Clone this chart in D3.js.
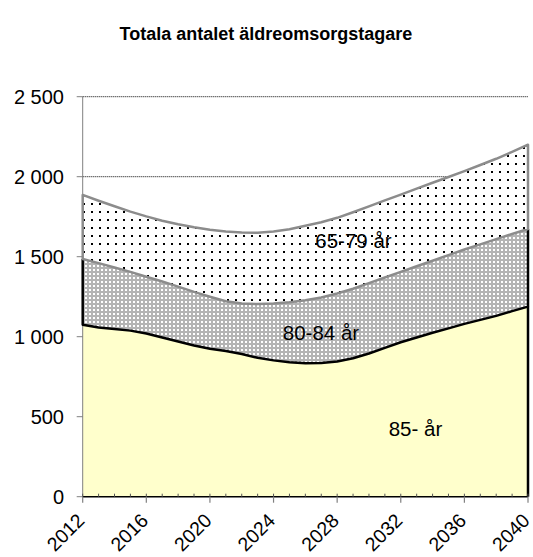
<!DOCTYPE html>
<html>
<head>
<meta charset="utf-8">
<script src="https://cdn.jsdelivr.net/npm/d3@7"></script>
<style>
  body { margin: 0; background: #fff; }
  text { font-family: "Liberation Sans", Arial, sans-serif; fill: #000; }
</style>
</head>
<body>
<svg id="chart" width="533" height="557"></svg>
<script>
// Yearly projection of elderly care recipients, by age group
const years = [2012, 2013, 2014, 2015, 2016, 2017, 2018, 2019, 2020, 2021,
               2022, 2023, 2024, 2025, 2026, 2027, 2028, 2029, 2030, 2031,
               2032, 2033, 2034, 2035, 2036, 2037, 2038, 2039, 2040];
const age85plus = [1075, 1058, 1048, 1038, 1020, 995, 970, 945, 925, 910,
                   892, 868, 852, 840, 834, 836, 845, 865, 895, 930,
                   965, 995, 1025, 1052, 1080, 1105, 1130, 1160, 1188];
const age80to84 = [411, 402, 384, 367, 355, 350, 343, 335, 325, 312,
                   315, 336, 356, 376, 394, 409, 425, 435, 440, 440,
                   440, 445, 450, 458, 465, 472, 480, 482, 485];
const age65to79 = [400, 390, 383, 377, 377, 380, 390, 404, 418, 435,
                   444, 446, 450, 456, 465, 470, 473, 478, 480, 482,
                   483, 485, 487, 488, 490, 496, 502, 513, 527];
const seriesKeys = ["a85", "a80", "a65"];
const seriesLabels = ["85- år", "80-84 år", "65-79 år"];
const yTicks = [0, 500, 1000, 1500, 2000, 2500];
const xTicks = [2012, 2016, 2020, 2024, 2028, 2032, 2036, 2040];
const title = "Totala antalet äldreomsorgstagare";

(function () {
const rows = years.map((yr, i) => ({ year: yr, a85: age85plus[i], a80: age80to84[i], a65: age65to79[i] }));
const stacked = d3.stack().keys(seriesKeys)(rows);

const svg = d3.select("#chart");
const plotLeft = 82.7, plotRight = 528, plotTop = 96.7, plotBottom = 496.7;

const x = d3.scaleLinear().domain([2012, 2040]).range([plotLeft, plotRight]);
const y = d3.scaleLinear().domain([0, 2500]).range([plotBottom, plotTop]);

// fill patterns
const defs = svg.append("defs");
const dots = defs.append("pattern").attr("id", "dots")
  .attr("patternUnits", "userSpaceOnUse").attr("width", 8).attr("height", 8);
dots.append("rect").attr("width", 8).attr("height", 8).attr("fill", "#fff");
dots.append("rect").attr("x", 3).attr("y", 3).attr("width", 2).attr("height", 2).attr("fill", "#000");

const checks = defs.append("pattern").attr("id", "checks")
  .attr("patternUnits", "userSpaceOnUse").attr("width", 4).attr("height", 4);
checks.append("rect").attr("width", 4).attr("height", 4).attr("fill", "#b4b4b4");
checks.append("rect").attr("x", 1).attr("y", 1).attr("width", 2).attr("height", 2).attr("fill", "#fff");

// title
svg.append("text").attr("x", 266).attr("y", 40).attr("text-anchor", "middle")
  .style("font-size", "18px").style("font-weight", "bold").text(title);

// gridlines
svg.append("g").selectAll("line").data(yTicks.filter(d => d > 0)).join("line")
  .attr("x1", plotLeft).attr("x2", plotRight)
  .attr("y1", d => y(d)).attr("y2", d => y(d))
  .attr("stroke", "#000").attr("stroke-width", 1).attr("stroke-dasharray", "1,1");

// stacked areas
const area = d3.area()
  .x(d => x(d.data.year))
  .y0(d => y(d[0]))
  .y1(d => y(d[1]));

const fills = ["#ffffcc", "url(#checks)", "url(#dots)"];
svg.append("g").selectAll("path").data(stacked).join("path")
  .attr("d", area).attr("fill", (d, i) => fills[i]);

// y axis line
svg.append("line").attr("x1", plotLeft).attr("x2", plotLeft).attr("y1", plotTop).attr("y2", plotBottom)
  .attr("stroke", "#808080").attr("stroke-width", 1);

// outlines
const line = d3.line().x(p => p[0]).y(p => p[1]);
const s85 = stacked[0], s80 = stacked[1], s65 = stacked[2];
const last = years.length - 1;

// 85- : right edge
svg.append("path")
  .attr("d", line([[x(years[last]), y(0)], [x(years[last]), y(s85[last][1])]]))
  .attr("fill", "none").attr("stroke", "#000").attr("stroke-width", 2.5);

// 80-84 : left edge, lower boundary, right edge
const b80 = [[x(years[0]), y(s80[0][1])], [x(years[0]), y(s80[0][0])]]
  .concat(s80.map(d => [x(d.data.year), y(d[0])]))
  .concat([[x(years[last]), y(s80[last][1])]]);
svg.append("path").attr("d", line(b80))
  .attr("fill", "none").attr("stroke", "#000").attr("stroke-width", 2.5)
  .attr("stroke-linejoin", "round");

// 65-79 : full outline
const b65 = s65.map(d => [x(d.data.year), y(d[1])])
  .concat(s65.slice().reverse().map(d => [x(d.data.year), y(d[0])]));
svg.append("path").attr("d", line(b65) + "Z")
  .attr("fill", "none").attr("stroke", "#8c8c8c").attr("stroke-width", 2.5)
  .attr("stroke-linejoin", "round");

// y axis ticks and labels
const fmt = d3.formatLocale({ thousands: "\u00a0", grouping: [3], decimal: ",", currency: ["", " kr"] }).format(",");
const yAxis = svg.append("g");
yAxis.selectAll("line").data(yTicks).join("line")
  .attr("x1", plotLeft - 6).attr("x2", plotLeft).attr("y1", d => y(d)).attr("y2", d => y(d))
  .attr("stroke", "#808080");
yAxis.selectAll("text").data(yTicks).join("text")
  .attr("x", 64).attr("y", d => y(d)).attr("dy", "0.36em").attr("text-anchor", "end")
  .style("font-size", "20px").text(d => fmt(d));

// x axis
const xAxis = svg.append("g");
xAxis.append("line").attr("x1", plotLeft).attr("x2", plotRight).attr("y1", plotBottom).attr("y2", plotBottom)
  .attr("stroke", "#000").attr("stroke-width", 1.5);
xAxis.selectAll("line.minor").data(years).join("line").attr("class", "minor")
  .attr("x1", d => x(d)).attr("x2", d => x(d)).attr("y1", plotBottom - 3).attr("y2", plotBottom)
  .attr("stroke", "#555");
xAxis.selectAll("line.major").data(xTicks).join("line").attr("class", "major")
  .attr("x1", d => x(d)).attr("x2", d => x(d)).attr("y1", plotBottom).attr("y2", plotBottom + 6)
  .attr("stroke", "#808080").attr("stroke-width", 1.2);
xAxis.selectAll("text").data(xTicks).join("text")
  .attr("text-anchor", "end")
  .attr("transform", d => `translate(${x(d) + 3},${plotBottom + 25}) rotate(-45)`)
  .style("font-size", "19.5px").text(d => d);

// series labels
const labelPos = [[415.5, 436], [321, 340], [353.5, 248]];
svg.append("g").selectAll("text").data(seriesLabels).join("text")
  .attr("x", (d, i) => labelPos[i][0]).attr("y", (d, i) => labelPos[i][1])
  .attr("text-anchor", "middle").style("font-size", "20.5px").text(d => d);
})();
</script>
</body>
</html>
